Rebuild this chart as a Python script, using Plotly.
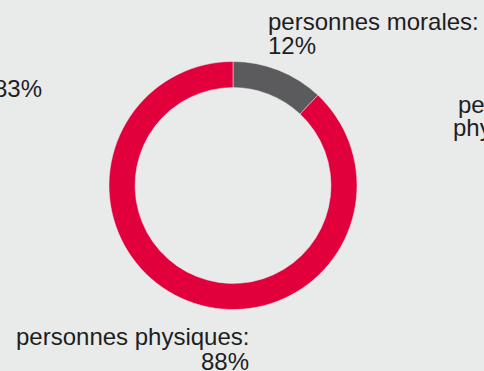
import plotly.graph_objects as go

W, H = 484, 371

categories = ["personnes morales", "personnes physiques"]
values = [12, 88]
colors = ["#5b5b5d", "#e1003b"]

bg = "#e9eaea"
txt = "#1e1e1e"
FONT = "Liberation Sans, Arial, Helvetica, sans-serif"
FS = 24

# donut geometry in pixels
cx, cy, r = 233, 185.5, 124

fig = go.Figure(go.Pie(
    labels=categories,
    values=values,
    hole=0.79,
    sort=False,
    direction="clockwise",
    rotation=0,
    marker=dict(colors=colors, line=dict(color=bg, width=0.5)),
    textinfo="none",
    hoverinfo="label+percent",
    showlegend=False,
    domain=dict(x=[(cx - r) / W, (cx + r) / W],
                y=[1 - (cy + r) / H, 1 - (cy - r) / H]),
))

def ann(text, px, py, xanchor):
    fig.add_annotation(
        text=text, x=px / W, y=1 - py / H, xref="paper", yref="paper",
        xanchor=xanchor, yanchor="middle", showarrow=False,
        font=dict(family=FONT, size=FS, color=txt),
    )

pct = [f"{v}%" for v in values]
ann(categories[0] + ":", 266, 21.5, "left")
ann(pct[0], 266, 45.5, "left")
ann(categories[1] + ":", 251, 336.5, "right")
ann(pct[1], 251, 361, "right")
# partial labels from neighbouring charts (cut at the edges)
ann("83%", 44, 88.5, "right")
ann("pe", 456, 104.5, "left")
ann("phy", 451, 127.5, "left")

fig.update_layout(
    width=W, height=H,
    margin=dict(l=0, r=0, t=0, b=0),
    paper_bgcolor=bg, plot_bgcolor=bg,
)

fig.write_html("out.html")
